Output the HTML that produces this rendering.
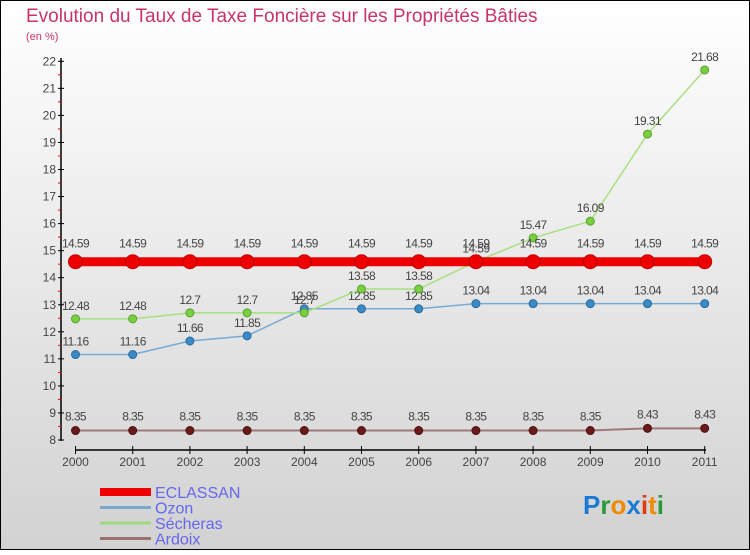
<!DOCTYPE html>
<html><head><meta charset="utf-8"><style>
body{margin:0}
#c{width:750px;height:550px;position:relative;font-family:"Liberation Sans",sans-serif}
</style></head><body>
<div id="c">
<svg id="s" width="750" height="550" xmlns="http://www.w3.org/2000/svg">
<defs><linearGradient id="bg" x1="0" y1="0" x2="0" y2="1"><stop offset="0" stop-color="#ffffff"/><stop offset="1" stop-color="#d2d2d2"/></linearGradient></defs>
<rect x="0.5" y="0.5" width="749" height="549" fill="url(#bg)" stroke="#000"/>
<text x="26" y="22" font-size="19" fill="#c8346a">Evolution du Taux de Taxe Foncière sur les Propriétés Bâties</text>
<text x="26" y="40" font-size="11" fill="#c8346a">(en %)</text>
<g id="axes"></g><g id="series"></g><g id="legend"></g>
<g font-size="26" font-weight="bold">
<text x="583" y="514"><tspan fill="#1a7ad4">P</tspan><tspan fill="#2a9a3a">r</tspan><tspan fill="#f08a00">o</tspan><tspan fill="#1a7ad4">x</tspan><tspan fill="#e03a10">i</tspan><tspan fill="#f08a00">t</tspan><tspan fill="#2a9a3a">i</tspan></text>
</g>
</svg>
</div>
<script>
const years=[2000,2001,2002,2003,2004,2005,2006,2007,2008,2009,2010,2011];
const eclassan=[14.59,14.59,14.59,14.59,14.59,14.59,14.59,14.59,14.59,14.59,14.59,14.59];
const ozon=[11.16,11.16,11.66,11.85,12.85,12.85,12.85,13.04,13.04,13.04,13.04,13.04];
const secheras=[12.48,12.48,12.7,12.7,12.7,13.58,13.58,14.59,15.47,16.09,19.31,21.68];
const ardoix=[8.35,8.35,8.35,8.35,8.35,8.35,8.35,8.35,8.35,8.35,8.43,8.43];
const yTicks=[8,9,10,11,12,13,14,15,16,17,18,19,20,21,22];
const seriesNames=["ECLASSAN","Ozon","Sécheras","Ardoix"];
const NS="http://www.w3.org/2000/svg";
const X=i=>75.5+i*57.2;
const Y=v=>440-(v-8)*27.05;
function mk(tag,attrs,parent,txt){const e=document.createElementNS(NS,tag);for(const k in attrs)e.setAttribute(k,attrs[k]);if(txt!==undefined)e.textContent=txt;parent.appendChild(e);return e;}
const ax=document.getElementById('axes');
let e;
e=mk('line',{x1:61,y1:58,x2:61,y2:441,stroke:'#000','stroke-width':1.5},ax);


yTicks.forEach(t=>{
 mk('line',{x1:58,y1:Y(t),x2:64,y2:Y(t),stroke:'#000'},ax);
 if(t<22)mk('line',{x1:58,y1:Y(t+0.5),x2:61,y2:Y(t+0.5),stroke:'#e00'},ax);
 e=mk('text',{x:56,y:Y(t)+4,'font-size':12,fill:'#444','text-anchor':'end'},ax,String(t));
 
 
});
e=mk('line',{x1:75,y1:450,x2:706,y2:450,stroke:'#000','stroke-width':1.5},ax);


years.forEach((yr,i)=>{
 mk('line',{x1:X(i),y1:446,x2:X(i),y2:454,stroke:'#000'},ax);
 e=mk('text',{x:X(i),y:466,'font-size':12,fill:'#444','text-anchor':'middle'},ax,String(yr));
 
 
});
const sg=document.getElementById('series');
function draw(vals,name,color,line,w,r,dot,lblOff){
 const g=mk('g',{},sg);
 
 
 mk('polyline',{points:vals.map((v,i)=>X(i)+','+Y(v)).join(' '),fill:'none',stroke:line,'stroke-width':w},g);
 vals.forEach((v,i)=>{
  const c=mk('circle',{cx:X(i),cy:Y(v),r:r,fill:color,stroke:dot,'stroke-width':1},g);
  
  
  const t=mk('text',{x:X(i),y:Y(v)-lblOff,'font-size':12,fill:'#444','text-anchor':'middle','letter-spacing':'-0.6'},g,String(v));
  
  
 });
}
draw(ardoix,'ardoix','#6a1a1a','#a07878',2,4,'#4a1010',10);
draw(ozon,'ozon','#3a8ac8','#78aad4',1.5,4,'#2a6a9a',9);
draw(secheras,'secheras','#7ad040','#a8e080',1.5,4,'#5aa030',9);
draw(eclassan,'eclassan','#ee0000','#ee0000',9,7,'#c00000',14);
const lg=document.getElementById('legend');
const lc=['#ee0000','#7aa8cc','#a0d880','#9a7070'],lw=[8,3,3,3];
seriesNames.forEach((n,i)=>{
 const y=492+i*15.5;
 const g=mk('g',{},lg);
 
 
 mk('line',{x1:100,y1:y,x2:151,y2:y,stroke:lc[i],'stroke-width':lw[i]},g);
 mk('text',{x:155,y:y+6,'font-size':16,fill:'#6666ee'},g,n);
});
</script>
</body></html>
